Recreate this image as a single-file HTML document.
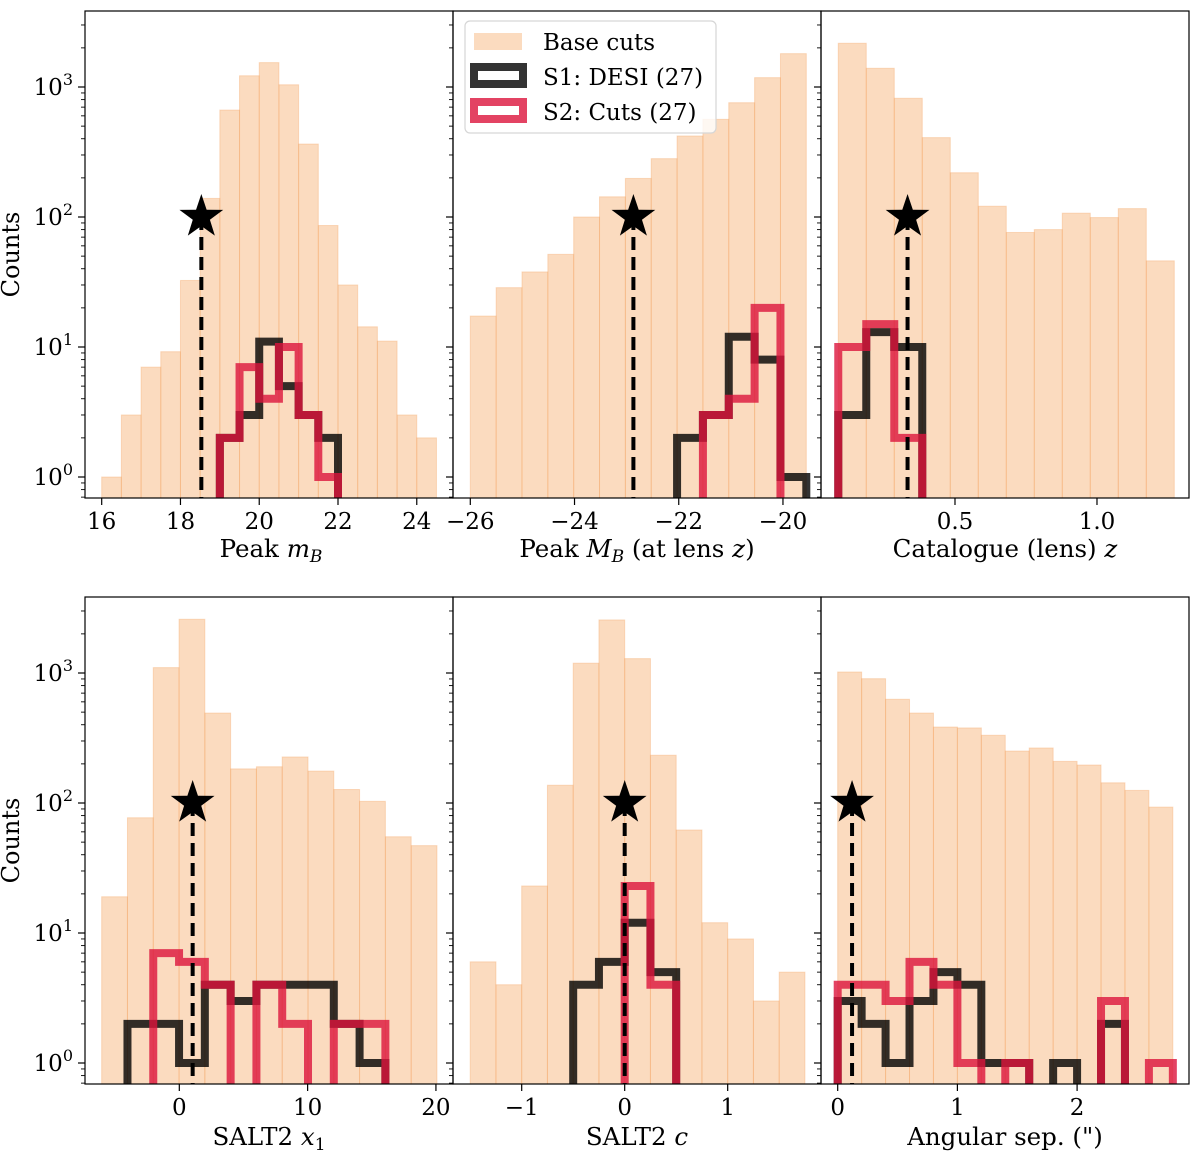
<!DOCTYPE html>
<html><head><meta charset="utf-8">
<style>
html,body{margin:0;padding:0;background:#fff;}
svg{display:block;font-family:"DejaVu Serif","Liberation Serif",serif;}
</style></head>
<body>
<svg id="fig" xmlns="http://www.w3.org/2000/svg" width="1200" height="1152" viewBox="0 0 1200 1152">
<defs>
<clipPath id="c0"><rect x="85" y="11" width="368" height="487"/></clipPath>
<clipPath id="c1"><rect x="453" y="11" width="368" height="487"/></clipPath>
<clipPath id="c2"><rect x="821" y="11" width="368" height="487"/></clipPath>
<clipPath id="c3"><rect x="85" y="597" width="368" height="487"/></clipPath>
<clipPath id="c4"><rect x="453" y="597" width="368" height="487"/></clipPath>
<clipPath id="c5"><rect x="821" y="597" width="368" height="487"/></clipPath>
</defs>
<g id="layer"></g>
</svg>
<script>
// ---- data ----
const p1Edges=[16,16.5,17,17.5,18,18.5,19,19.5,20,20.5,21,21.5,22,22.5,23,23.5,24,24.5];
const p1Base=[1,3,7,9.2,32.5,139,665,1220,1540,1040,364,86,30,14.3,11.1,3,2];
const p1S1=[0,0,0,0,0,0,2,3,11,5,3,2,0,0,0,0,0];
const p1S2=[0,0,0,0,0,0,2,7,4,10,3,1,0,0,0,0,0];
const p1Ticks=[16,18,20,22,24];
const p1TickLabels=["16","18","20","22","24"];
const p1Star=18.53;

const p2Edges=[-26,-25.504,-25.008,-24.512,-24.016,-23.52,-23.024,-22.528,-22.032,-21.536,-21.04,-20.544,-20.048,-19.552];
const p2Base=[17.3,28.6,37.8,51.6,100,143,198,281,420,564,757,1180,1805];
const p2S1=[0,0,0,0,0,0,0,0,2,3,12,8,1];
const p2S2=[0,0,0,0,0,0,0,0,0,3,4,20,0];
const p2Ticks=[-26,-24,-22,-20];
const p2TickLabels=["\u221226","\u221224","\u221222","\u221220"];
const p2Star=-22.87;

const p3Edges=[0.089,0.1876,0.2862,0.3848,0.4834,0.582,0.6806,0.7792,0.8778,0.9764,1.075,1.1736,1.2722];
const p3Base=[2170,1393,819,408,219,121,76,80,107,99,116,46];
const p3S1=[3,13,10,0,0,0,0,0,0,0,0,0];
const p3S2=[10,15,2,0,0,0,0,0,0,0,0,0];
const p3Ticks=[0.5,1.0];
const p3TickLabels=["0.5","1.0"];
const p3Star=0.333;

const p4Edges=[-6.05,-4.04,-2.03,-0.02,1.99,4.0,6.01,8.02,10.03,12.04,14.05,16.06,18.07,20.08];
const p4Base=[19,77,1100,2590,492,183,190,226,176,127,103,55,47];
const p4S1=[0,2,2,1,4,3,4,4,4,2,1,0,0];
const p4S2=[0,0,7,6,4,0,4,2,0,2,2,0,0];
const p4Ticks=[0,10,20];
const p4TickLabels=["0","10","20"];
const p4Star=1.04;

const p5Edges=[-1.5,-1.25,-1,-0.75,-0.5,-0.25,0,0.25,0.5,0.75,1,1.25,1.5,1.75];
const p5Base=[6,4,23,137,1190,2560,1290,233,62,12,9,3,5];
const p5S1=[0,0,0,0,4,6,12,5,0,0,0,0,0];
const p5S2=[0,0,0,0,0,0,23,4,0,0,0,0,0];
const p5Ticks=[-1,0,1];
const p5TickLabels=["\u22121","0","1"];
const p5Star=0.0;

const p6Edges=[0,0.2,0.4,0.6,0.8,1.0,1.2,1.4,1.6,1.8,2.0,2.2,2.4,2.6,2.8];
const p6Base=[1018,904,628,492,384,378,332,251,265,209,196,143,125,93];
const p6S1=[3,2,1,3,5,4,1,1,0,1,0,2,0,0];
const p6S2=[4,4,3,6,4,1,0,1,0,0,0,3,0,1];
const p6Ticks=[0,1,2];
const p6TickLabels=["0","1","2"];
const p6Star=0.12;

const starCount=100;
const yTickVals=[1,10,100,1000];
const yTickExp=["0","1","2","3"];

// ---- layout ----
const NS="http://www.w3.org/2000/svg";
const layer=document.getElementById('layer');
function mk(tag,attrs,parent){const e=document.createElementNS(NS,tag);for(const k in attrs)e.setAttribute(k,attrs[k]);(parent||layer).appendChild(e);return e;}

const panels=[
 {id:'peak-mb',x0:85,x1:453,d0:15.576,d1:24.92,row:0,edges:p1Edges,base:p1Base,s1:p1S1,s2:p1S2,ticks:p1Ticks,tl:p1TickLabels,star:p1Star,clip:'c0',ylab:true},
 {id:'peak-abs-mb',x0:453,x1:821,d0:-26.332,d1:-19.27,row:0,edges:p2Edges,base:p2Base,s1:p2S1,s2:p2S2,ticks:p2Ticks,tl:p2TickLabels,star:p2Star,clip:'c1'},
 {id:'lens-z',x0:821,x1:1189,d0:0.0282,d1:1.324,row:0,edges:p3Edges,base:p3Base,s1:p3S1,s2:p3S2,ticks:p3Ticks,tl:p3TickLabels,star:p3Star,clip:'c2'},
 {id:'salt2-x1',x0:85,x1:453,d0:-7.35,d1:21.33,row:1,edges:p4Edges,base:p4Base,s1:p4S1,s2:p4S2,ticks:p4Ticks,tl:p4TickLabels,star:p4Star,clip:'c3',ylab:true},
 {id:'salt2-c',x0:453,x1:821,d0:-1.667,d1:1.906,row:1,edges:p5Edges,base:p5Base,s1:p5S1,s2:p5S2,ticks:p5Ticks,tl:p5TickLabels,star:p5Star,clip:'c4'},
 {id:'angular-sep',x0:821,x1:1189,d0:-0.1395,d1:2.935,row:1,edges:p6Edges,base:p6Base,s1:p6S1,s2:p6S2,ticks:p6Ticks,tl:p6TickLabels,star:p6Star,clip:'c5'}
];
const rowTop=[11,597], rowBot=[498,1084], rowOne=[477,1063], DEC=130;

panels.forEach(p=>{
  const xs=v=>p.x0+(v-p.d0)/(p.d1-p.d0)*(p.x1-p.x0);
  const ys=v=>v<=0?rowBot[p.row]+30:rowOne[p.row]-DEC*Math.log10(v);
  const g=mk('g',{'clip-path':'url(#'+p.clip+')'});
  
  
  for(let i=0;i<p.base.length;i++){
    const xa=xs(p.edges[i]),xb=xs(p.edges[i+1]),yt=ys(p.base[i]);
    const r=mk('rect',{x:xa,y:yt,width:xb-xa,height:rowBot[p.row]-yt+2,fill:'rgba(244,164,96,0.4)',stroke:'rgba(244,164,96,0.35)','stroke-width':1},g);
    
    
  }
  [[p.s1,'rgba(0,0,0,0.8)','s1-desi-step'],[p.s2,'rgba(220,20,60,0.8)','s2-cuts-step']].forEach(([arr,col,nm])=>{
    let pts=[[xs(p.edges[0]),ys(0)]];
    for(let i=0;i<arr.length;i++){pts.push([xs(p.edges[i]),ys(arr[i])]);pts.push([xs(p.edges[i+1]),ys(arr[i])]);}
    pts.push([xs(p.edges[arr.length]),ys(0)]);
    const pl=mk('polyline',{points:pts.map(q=>q.join(',')).join(' '),fill:'none',stroke:col,'stroke-width':8,'stroke-linejoin':'miter'},g);
    
    
  });
  const sx=xs(p.star),sy=ys(starCount);
  const dl=mk('line',{x1:sx,y1:sy,x2:sx,y2:rowBot[p.row],stroke:'#000','stroke-width':4,'stroke-dasharray':'13,7'},g);
  
  
  let sp=[];for(let k=0;k<10;k++){const a=-Math.PI/2+k*Math.PI/5,R=k%2?9:23;sp.push((sx+R*Math.cos(a)).toFixed(2)+','+(sy+R*Math.sin(a)).toFixed(2));}
  const st=mk('polygon',{points:sp.join(' '),fill:'#000'},g);
  
  
  const fr=mk('rect',{x:p.x0,y:rowTop[p.row],width:p.x1-p.x0,height:rowBot[p.row]-rowTop[p.row],fill:'none',stroke:'#000','stroke-width':1.2});
  
  
  p.ticks.forEach((t,i)=>{
    const x=xs(t);
    const tk=mk('line',{x1:x,y1:rowBot[p.row],x2:x,y2:rowBot[p.row]+7,stroke:'#000','stroke-width':1.2});
    
    
    const tx=mk('text',{x:x,y:rowBot[p.row]+31,'text-anchor':'middle','font-size':23,fill:'#000'});
    tx.textContent=p.tl[i];
    
    
  });
  for(let d=-1;d<=3;d++){for(let m=1;m<=9;m++){
    const v=m*Math.pow(10,d),y=ys(v);
    if(y<rowTop[p.row]-0.5||y>rowBot[p.row]+0.5)continue;
    const tk=mk('line',{x1:p.x0,y1:y,x2:p.x0-(m===1?7:4),y2:y,stroke:'#000','stroke-width':m===1?1.2:0.9});
    
    
  }}
  if(p.ylab){
    yTickVals.forEach((v,i)=>{
      const y=ys(v);
      const tx=mk('text',{x:73,y:y+8,'text-anchor':'end','font-size':23,fill:'#000'});
      tx.textContent='10';
      const sup=mk('tspan',{dy:-10,'font-size':16},tx);
      sup.textContent=yTickExp[i];
      
      
    });
    const cy=(rowTop[p.row]+rowBot[p.row])/2;
    const cl=mk('text',{x:19,y:cy,'text-anchor':'middle','font-size':24,transform:'rotate(-90 19 '+cy+')'});
    cl.textContent='Counts';
    
    
  }
});
</script>
<svg style="position:absolute;left:0;top:0" width="1200" height="1152">
<g font-family="DejaVu Serif, Liberation Serif, serif" font-size="24.5" fill="#000" text-anchor="middle">
<text x="271" y="557">Peak <tspan font-style="italic">m</tspan><tspan font-style="italic" font-size="17" dy="5">B</tspan></text>
<text x="637" y="557">Peak <tspan font-style="italic">M</tspan><tspan font-style="italic" font-size="17" dy="5">B</tspan><tspan dy="-5"> (at lens </tspan><tspan font-style="italic">z</tspan>)</text>
<text x="1005" y="557">Catalogue (lens) <tspan font-style="italic">z</tspan></text>
<text x="269" y="1145">SALT2 <tspan font-style="italic">x</tspan><tspan font-size="17" dy="5">1</tspan></text>
<text x="637" y="1145">SALT2 <tspan font-style="italic">c</tspan></text>
<text x="1005" y="1145">Angular sep. (")</text>
</g>
<g>
<rect x="465" y="21" width="251" height="112" rx="5" fill="rgba(255,255,255,0.8)" stroke="#d6d6d6" stroke-width="1.2"/>
<rect x="474" y="33" width="48" height="17" fill="rgba(244,164,96,0.4)"/>
<rect x="474" y="67" width="49" height="17" fill="#fff" stroke="rgba(0,0,0,0.8)" stroke-width="8"/>
<rect x="474" y="102" width="49" height="17" fill="#fff" stroke="rgba(220,20,60,0.8)" stroke-width="8"/>
<g font-family="DejaVu Serif, Liberation Serif, serif" font-size="23" fill="#000">
<text x="543" y="50">Base cuts</text>
<text x="543" y="85">S1: DESI (27)</text>
<text x="543" y="120">S2: Cuts (27)</text>
</g>
</g>
</svg>
</body></html>
